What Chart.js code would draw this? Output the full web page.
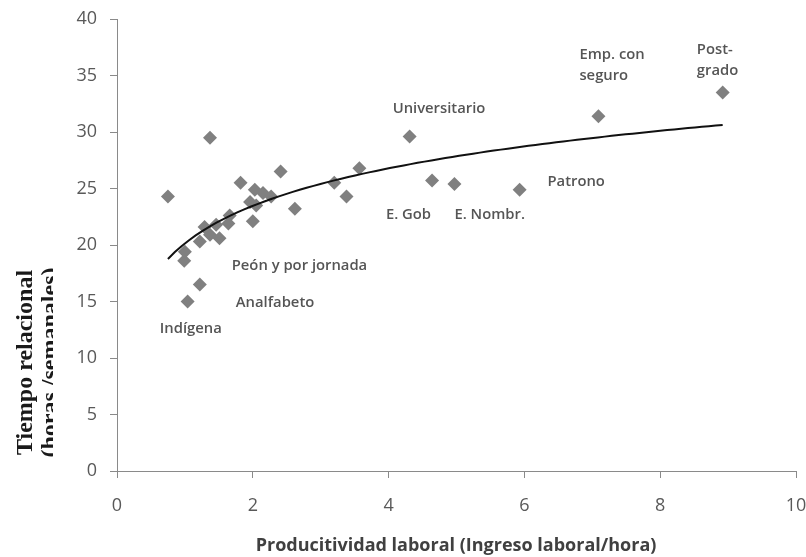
<!DOCTYPE html>
<html>
<head>
<meta charset="utf-8">
<script src="https://cdn.jsdelivr.net/npm/chart.js@4"></script>
<style>
  html, body { margin: 0; padding: 0; background: #ffffff; }
  #wrap { width: 806px; height: 557px; position: relative; }
</style>
</head>
<body>
<div id="wrap"><canvas id="c" width="806" height="557"></canvas></div>
<script>
// ---- data ----
const productividad = [0.75, 1.37, 2.41, 1.82, 2.03, 2.15, 2.27, 1.96, 2.05, 2.62, 2.0, 1.66, 1.64, 1.46, 1.29, 1.37, 1.51, 1.22, 1.0, 0.99, 1.22, 1.04, 3.2, 3.38, 3.57, 4.31, 4.64, 4.97, 5.93, 7.09, 8.92];
const tiempo = [24.3, 29.5, 26.5, 25.5, 24.9, 24.6, 24.3, 23.8, 23.5, 23.2, 22.1, 22.6, 21.9, 21.8, 21.6, 20.9, 20.6, 20.3, 19.4, 18.6, 16.5, 15.0, 25.5, 24.3, 26.8, 29.6, 25.7, 25.4, 24.9, 31.4, 33.5];
const xTicks = [0, 2, 4, 6, 8, 10];
const yTicks = [0, 5, 10, 15, 20, 25, 30, 35, 40];
const etiquetas = ["Universitario", "Emp. con", "seguro", "Post-", "grado", "Patrono", "E. Gob", "E. Nombr.", "Peón y por jornada", "Analfabeto", "Indígena"];
const etiquetaX = [4.06, 6.81, 6.81, 8.54, 8.54, 6.34, 3.96, 4.97, 1.69, 1.75, 0.63];
const etiquetaY = [32.05, 36.8, 34.95, 37.25, 35.4, 25.55, 22.7, 22.7, 18.2, 14.85, 12.55];
const tituloX = "Producitividad laboral (Ingreso laboral/hora)";
const tituloY1 = "Tiempo relacional";
const tituloY2 = "(horas /semanales)";

// logarithmic trend (least squares on ln x), as the spreadsheet trendline
function logFit(xs, ys) {
  const n = xs.length;
  let sl = 0, sy = 0, sll = 0, sly = 0;
  for (let i = 0; i < n; i++) {
    const l = Math.log(xs[i]);
    sl += l; sy += ys[i]; sll += l * l; sly += l * ys[i];
  }
  const b = (n * sly - sl * sy) / (n * sll - sl * sl);
  const a = (sy - b * sl) / n;
  return { a, b };
}
const fit = logFit(productividad, tiempo);
const xMin = Math.min(...productividad), xMax = Math.max(...productividad);
const trend = [];
for (let i = 0; i <= 80; i++) {
  const x = xMin + (xMax - xMin) * i / 80;
  trend.push({ x: x, y: fit.a + fit.b * Math.log(x) });
}

const points = productividad.map((x, i) => ({ x: x, y: tiempo[i] }));

const labelPlugin = {
  id: 'labels',
  afterDatasetsDraw(chart) {
    const ctx = chart.ctx;
    const xs = chart.scales.x, ys = chart.scales.y;
    ctx.save();
    ctx.fillStyle = '#555555';
    ctx.font = '600 14.8px "Open Sans"';
    ctx.textAlign = 'left';
    ctx.textBaseline = 'middle';
    etiquetas.forEach((t, i) => {
      ctx.fillText(t, xs.getPixelForValue(etiquetaX[i]), ys.getPixelForValue(etiquetaY[i]));
    });
    ctx.restore();
  },
  afterDraw(chart) {
    const ctx = chart.ctx;
    // x title
    ctx.save();
    ctx.fillStyle = '#404040';
    ctx.font = 'bold 18px "Open Sans"';
    ctx.textAlign = 'center';
    ctx.textBaseline = 'middle';
    ctx.fillText(tituloX, 456, 546);
    ctx.restore();
    // y title, line 1
    const cy = 362.5;
    ctx.save();
    ctx.fillStyle = '#1a1a1a';
    ctx.font = 'bold 24px "Liberation Serif"';
    ctx.textAlign = 'center';
    ctx.textBaseline = 'alphabetic';
    ctx.translate(32, cy);
    ctx.rotate(-Math.PI / 2);
    ctx.fillText(tituloY1, 0, 0);
    ctx.restore();
    // y title, line 2 (clipped as in the source)
    ctx.save();
    ctx.beginPath();
    ctx.rect(0, 0, 53, 557);
    ctx.clip();
    ctx.fillStyle = '#1a1a1a';
    ctx.font = 'bold 24px "Liberation Serif"';
    ctx.textAlign = 'center';
    ctx.textBaseline = 'alphabetic';
    ctx.translate(57, cy);
    ctx.rotate(-Math.PI / 2);
    ctx.fillText(tituloY2, 0, 0);
    ctx.restore();
  }
};

new Chart(document.getElementById('c'), {
  data: {
    datasets: [
      {
        type: 'scatter',
        data: points,
        pointStyle: 'rectRot',
        pointRadius: 7,
        pointHoverRadius: 7,
        backgroundColor: '#808080',
        borderColor: '#808080',
        borderWidth: 0,
        order: 2
      },
      {
        type: 'line',
        data: trend,
        borderColor: '#111111',
        borderWidth: 2,
        pointRadius: 0,
        fill: false,
        tension: 0,
        order: 1
      }
    ]
  },
  options: {
    responsive: false,
    animation: false,
    events: [],
    layout: { padding: { left: 0, right: 10, top: 19, bottom: 0 } },
    plugins: { legend: { display: false }, tooltip: { enabled: false } },
    scales: {
      x: {
        type: 'linear',
        min: 0, max: 10,
        afterBuildTicks(s) { s.ticks = xTicks.map(v => ({ value: v })); },
        afterFit(s) { s.height = 86; s.paddingLeft = 0; s.paddingRight = 0; },
        grid: { drawOnChartArea: false, drawTicks: true, tickLength: 7, color: '#8a8a8a' },
        border: { color: '#8a8a8a', width: 1 },
        ticks: { color: '#595959', font: { family: 'Open Sans', size: 18 }, padding: 17, maxRotation: 0 }
      },
      y: {
        type: 'linear',
        min: 0, max: 40,
        afterBuildTicks(s) { s.ticks = yTicks.map(v => ({ value: v })); },
        afterFit(s) { s.width = 117; s.paddingTop = 0; s.paddingBottom = 0; },
        grid: { drawOnChartArea: false, drawTicks: true, tickLength: 7, color: '#8a8a8a' },
        border: { color: '#8a8a8a', width: 1 },
        ticks: { color: '#595959', font: { family: 'Open Sans', size: 18 }, padding: 13 }
      }
    }
  },
  plugins: [labelPlugin]
});
</script>
</body>
</html>
